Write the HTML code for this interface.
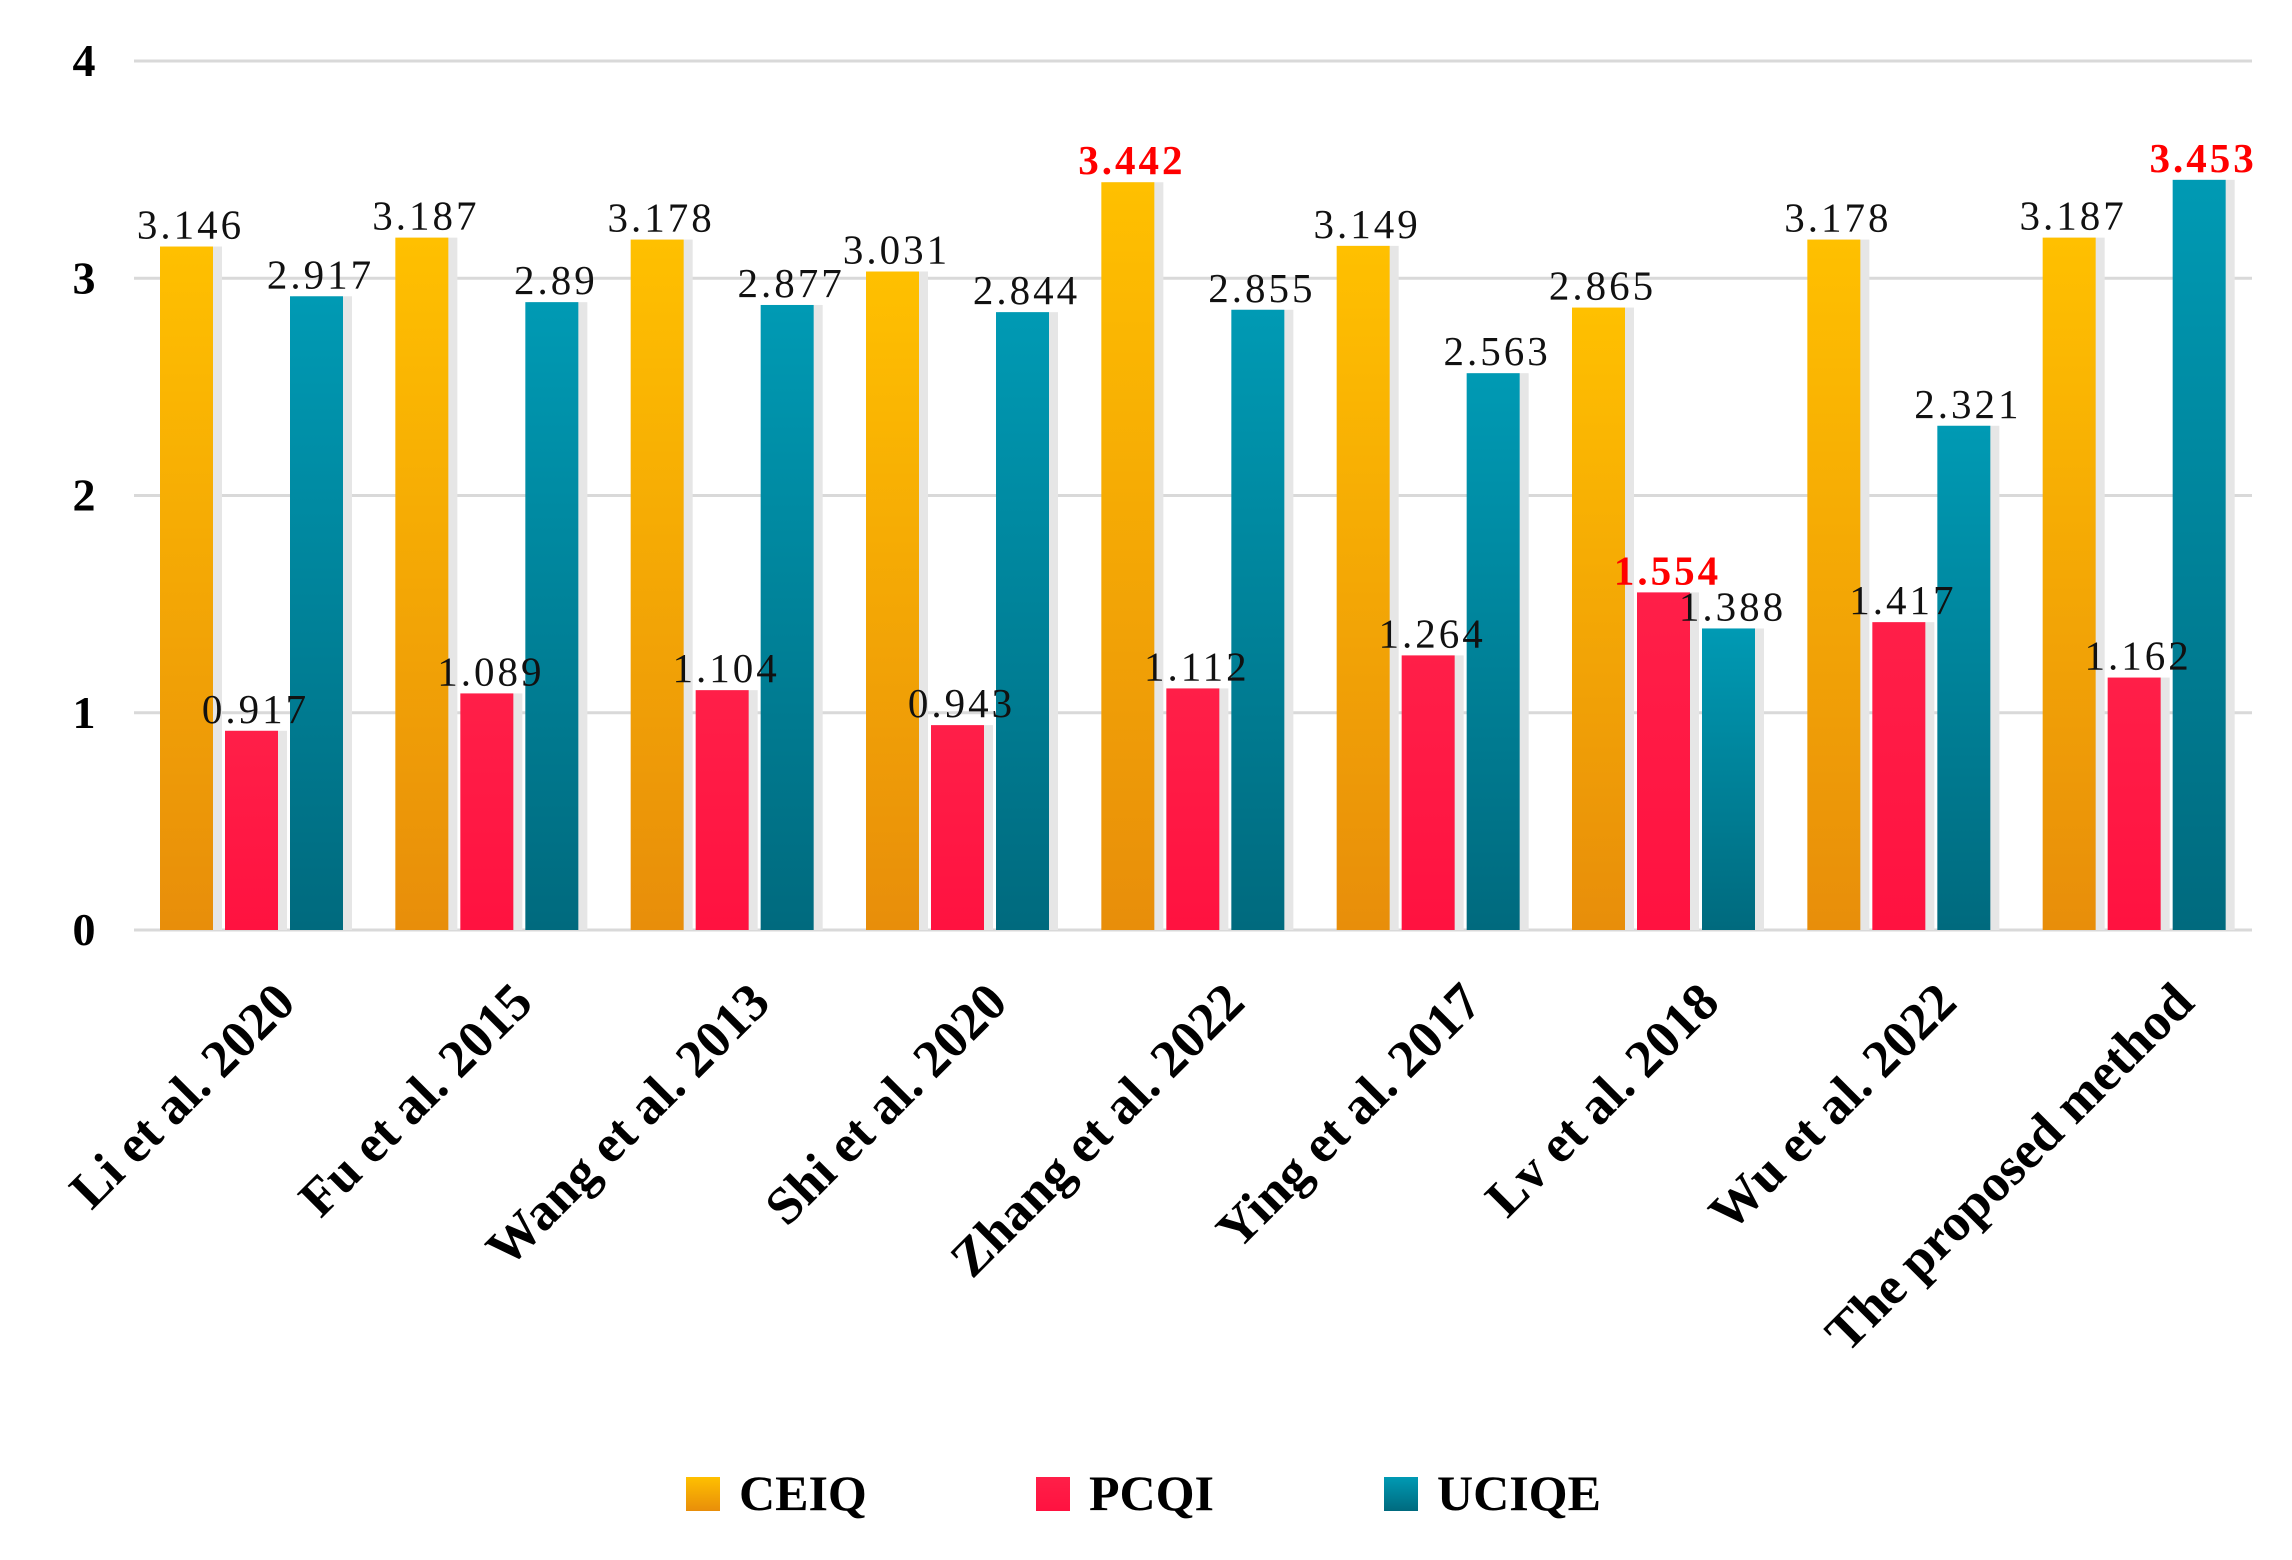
<!DOCTYPE html>
<html><head><meta charset="utf-8"><style>html,body{margin:0;padding:0;background:#fff}svg{display:block}</style></head>
<body>
<svg id="chart" width="2292" height="1560" viewBox="0 0 2292 1560" xmlns="http://www.w3.org/2000/svg" font-family="'Liberation Serif', serif">
<defs>
<linearGradient id="gOrange" x1="0" y1="0" x2="0" y2="1"><stop offset="0" stop-color="#FFC000"/><stop offset="1" stop-color="#E88E0A"/></linearGradient>
<linearGradient id="gPink" x1="0" y1="0" x2="0" y2="1"><stop offset="0" stop-color="#FF1F48"/><stop offset="1" stop-color="#FF1240"/></linearGradient>
<linearGradient id="gTeal" x1="0" y1="0" x2="0" y2="1"><stop offset="0" stop-color="#009AB4"/><stop offset="1" stop-color="#006A7E"/></linearGradient>
</defs>
<g id="grid"></g><g id="bars"></g><g id="labels"></g><g id="cats"></g>
<g id="legend">
<rect x="686" y="1477" width="34" height="34" fill="url(#gOrange)"/>
<text x="739" y="1510" font-size="50" font-weight="bold">CEIQ</text>
<rect x="1036" y="1477" width="34" height="34" fill="url(#gPink)"/>
<text x="1089" y="1510" font-size="50" font-weight="bold">PCQI</text>
<rect x="1384" y="1477" width="34" height="34" fill="url(#gTeal)"/>
<text x="1437" y="1510" font-size="50" font-weight="bold">UCIQE</text>
</g>
</svg>
<script>
const categories = ["Li et al. 2020","Fu et al. 2015","Wang et al. 2013","Shi et al. 2020","Zhang et al. 2022","Ying et al. 2017","Lv et al. 2018","Wu et al. 2022","The proposed method"];
const ceiq = [3.146,3.187,3.178,3.031,3.442,3.149,2.865,3.178,3.187];
const pcqi = [0.917,1.089,1.104,0.943,1.112,1.264,1.554,1.417,1.162];
const uciqe = [2.917,2.89,2.877,2.844,2.855,2.563,1.388,2.321,3.453];
const ceiqText = ["3.146","3.187","3.178","3.031","3.442","3.149","2.865","3.178","3.187"];
const pcqiText = ["0.917","1.089","1.104","0.943","1.112","1.264","1.554","1.417","1.162"];
const uciqeText = ["2.917","2.89","2.877","2.844","2.855","2.563","1.388","2.321","3.453"];
const yTicks = [0,1,2,3,4];
const highlight = [[4],[6],[8]];

const NS="http://www.w3.org/2000/svg";
const x0=134,x1=2252,yBase=930,yTop=61,yMax=4;
const band=(x1-x0)/categories.length;
function y(v){return yBase-(v/yMax)*(yBase-yTop);}
function bx(i,s){return x0+i*band+26+s*65;}
const bw=53;
function mk(tag,attrs,parent){const e=document.createElementNS(NS,tag);for(const k in attrs)e.setAttribute(k,attrs[k]);document.getElementById(parent).appendChild(e);return e;}

yTicks.forEach(t=>{
  const l=mk('line',{x1:x0,x2:x1,y1:y(t),y2:y(t),stroke:'#d9d9d9','stroke-width':3},'grid');
  
  
  const tx=mk('text',{x:84,y:y(t)+15,'font-size':46,'font-weight':'bold','text-anchor':'middle'},'grid');
  tx.textContent=t;
  
  
});
const series=[[ceiq,ceiqText,'url(#gOrange)','ceiq'],[pcqi,pcqiText,'url(#gPink)','pcqi'],[uciqe,uciqeText,'url(#gTeal)','uciqe']];
categories.forEach((c,i)=>{
  series.forEach((s,si)=>{
    const v=s[0][i];
    const xx=bx(i,si);
    const sh=mk('rect',{x:xx+3,y:y(v),width:bw+6,height:yBase-y(v),fill:'#e6e6e6'},'bars');
    
    
    const r=mk('rect',{x:xx,y:y(v),width:bw,height:yBase-y(v),fill:s[2]},'bars');
    
    
    const hi=highlight[si].includes(i);
    const t=mk('text',{x:xx+bw/2+4,y:y(v)-8,'font-size':41,'letter-spacing':3,'text-anchor':'middle',fill:hi?'#ff0000':'#111','font-weight':hi?'bold':'normal'},'labels');
    t.textContent=s[1][i];
    
    
  });
  const cx=x0+i*band+band/2+46+i*2, cy=1005;
  const ct=mk('text',{x:cx,y:cy,'font-size':53,'font-weight':'bold','text-anchor':'end',transform:'rotate(-45 '+cx+' '+cy+')'},'cats');
  ct.textContent=c;
  
  
});
</script>
</body></html>
